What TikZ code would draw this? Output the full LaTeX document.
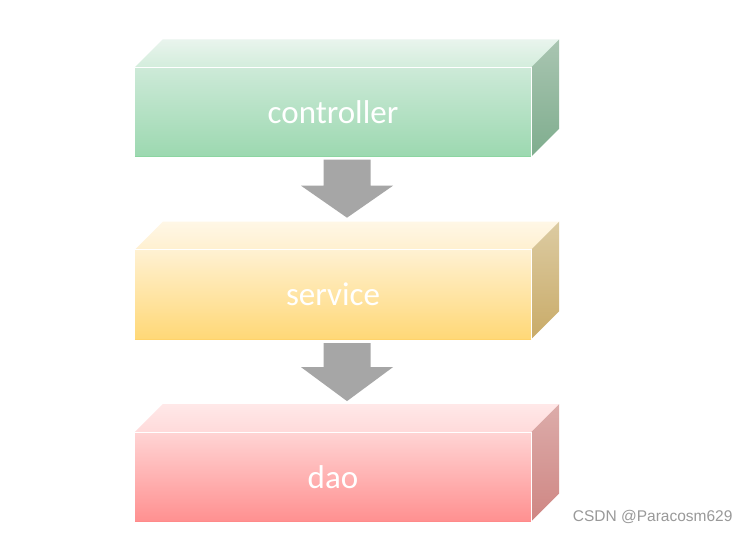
\documentclass[tikz,border=0pt]{standalone}
\usepackage{fontspec}
\setmainfont{Carlito}
\newfontfamily\markfont{Liberation Sans}
\usetikzlibrary{calc,positioning}
\definecolor{greenback}{HTML}{E9F4ED}
\definecolor{greenfront}{HTML}{D3EDDC}
\definecolor{greenhi}{HTML}{CDEAD8}
\definecolor{greenlo}{HTML}{9CD8B0}
\definecolor{greensidehi}{HTML}{A9C5B1}
\definecolor{greensidelo}{HTML}{7FAD8E}
\definecolor{greenline}{HTML}{8CD5A1}
\definecolor{yellowback}{HTML}{FFF7E6}
\definecolor{yellowfront}{HTML}{FFF0D0}
\definecolor{yellowhi}{HTML}{FFF1D2}
\definecolor{yellowlo}{HTML}{FFD877}
\definecolor{yellowsidehi}{HTML}{DCCBA2}
\definecolor{yellowsidelo}{HTML}{C9AB68}
\definecolor{yellowline}{HTML}{FFD36A}
\definecolor{redback}{HTML}{FFE8E8}
\definecolor{redfront}{HTML}{FFDADA}
\definecolor{redhi}{HTML}{FFD4D4}
\definecolor{redlo}{HTML}{FF9090}
\definecolor{redsidehi}{HTML}{DCACAA}
\definecolor{redsidelo}{HTML}{CF8683}
\definecolor{redline}{HTML}{FF8A8A}
\definecolor{arrowgray}{HTML}{A6A6A6}
\definecolor{markgray}{HTML}{999999}

\begin{document}
\begin{tikzpicture}[x=1pt, y=-1pt,
    layer/.style={minimum width=396pt, minimum height=89pt, inner sep=0pt,
        text=white, font=\fontsize{33}{38}\selectfont},
    blockarrow/.style={fill=arrowgray}]
    \useasboundingbox (0,0) rectangle (751,533);
    \fill[white] (0,0) rectangle (751,533);

    % Depth of the boxes
    \def\dx{28}
    \def\dy{-28}

    % Front faces
    \node[layer, top color=greenhi, bottom color=greenlo] (ctrl) at (333,112) {controller};
    \node[layer, top color=yellowhi, bottom color=yellowlo, below=93pt of ctrl] (serv) {service};
    \node[layer, top color=redhi, bottom color=redlo, below=93pt of serv] (dao) {dao};

    % Top faces
    \shade[top color=greenback, bottom color=greenfront] (ctrl.north west) -- ($(ctrl.north west)+(\dx,\dy)$) -- ($(ctrl.north east)+(\dx,\dy)$) -- (ctrl.north east) -- cycle;
    \shade[top color=yellowback, bottom color=yellowfront] (serv.north west) -- ($(serv.north west)+(\dx,\dy)$) -- ($(serv.north east)+(\dx,\dy)$) -- (serv.north east) -- cycle;
    \shade[top color=redback, bottom color=redfront] (dao.north west) -- ($(dao.north west)+(\dx,\dy)$) -- ($(dao.north east)+(\dx,\dy)$) -- (dao.north east) -- cycle;

    % Side faces
    \shade[top color=greensidehi, bottom color=greensidelo] (ctrl.north east) -- ($(ctrl.north east)+(\dx,\dy)$) -- ($(ctrl.south east)+(\dx,\dy)$) -- (ctrl.south east) -- cycle;
    \shade[top color=yellowsidehi, bottom color=yellowsidelo] (serv.north east) -- ($(serv.north east)+(\dx,\dy)$) -- ($(serv.south east)+(\dx,\dy)$) -- (serv.south east) -- cycle;
    \shade[top color=redsidehi, bottom color=redsidelo] (dao.north east) -- ($(dao.north east)+(\dx,\dy)$) -- ($(dao.south east)+(\dx,\dy)$) -- (dao.south east) -- cycle;

    % Edges
    \draw[white, line width=1pt] (ctrl.north west) -- (ctrl.north east) -- (ctrl.south east);
    \draw[white, line width=1pt] (serv.north west) -- (serv.north east) -- (serv.south east);
    \draw[white, line width=1pt] (dao.north west) -- (dao.north east) -- (dao.south east);
    \draw[greenline, line width=1.2pt] (ctrl.south west) -- (ctrl.south east);
    \draw[yellowline, line width=1.2pt] (serv.south west) -- (serv.south east);
    \draw[redline, line width=1.2pt] (dao.south west) -- (dao.south east);

    % Arrows between the layers
    \coordinate (a1) at ($(ctrl.south)+(14,3)$);
    \coordinate (a2) at ($(serv.south)+(14,4)$);
    \fill[blockarrow] ($(a1)+(-23.5,0)$) -- ++(47,0) -- ++(0,26) -- ++(22.5,0) -- ++(-46,32) -- ++(-46,-32) -- ++(22.5,0) -- cycle;
    \fill[blockarrow] ($(a2)+(-23.5,0)$) -- ++(47,0) -- ++(0,24) -- ++(22.5,0) -- ++(-46,34) -- ++(-46,-34) -- ++(22.5,0) -- cycle;

    % Watermark
    \node[anchor=east, text=markgray, font=\markfont\fontsize{15.5}{18}\selectfont] (mark) at (736,517) {CSDN @Paracosm629};

\end{tikzpicture}
\end{document}
